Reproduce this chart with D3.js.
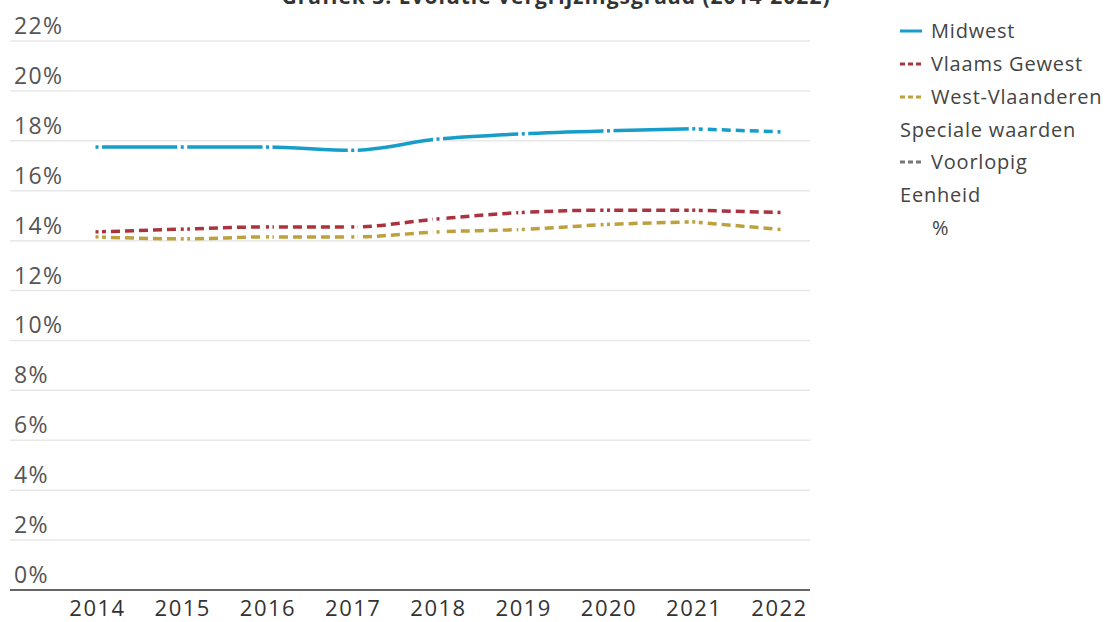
<!DOCTYPE html>
<html>
<head>
<meta charset="utf-8">
<script src="https://cdn.jsdelivr.net/npm/d3@7"></script>
<style>
  body { margin: 0; background: #fff; }
  svg { font-family: "Open Sans", sans-serif; }
</style>
</head>
<body>
<svg></svg>
<script>
const years = [2014, 2015, 2016, 2017, 2018, 2019, 2020, 2021, 2022]
const midwest = [17.75, 17.75, 17.75, 17.62, 18.07, 18.28, 18.4, 18.48, 18.36]
const vlaams = [14.35, 14.46, 14.55, 14.55, 14.87, 15.13, 15.22, 15.22, 15.13]
const westVl = [14.15, 14.07, 14.15, 14.15, 14.35, 14.45, 14.65, 14.75, 14.45]
const yTicks = [0, 2, 4, 6, 8, 10, 12, 14, 16, 18, 20, 22]
const provisionalFrom = 2021

const width = 1105, height = 622
const svg = d3.select('svg').attr('width', width).attr('height', height)

const margin = { top: 41, bottom: 32, left: 10, right: 295 }
const innerW = width - margin.left - margin.right
const innerH = height - margin.top - margin.bottom

const xScale = d3.scalePoint().domain(years).range([87, 769])
const yScale = d3.scaleLinear().domain([0, 22]).range([innerH, 0])

const g = svg.append('g').attr('transform', `translate(${margin.left},${margin.top})`)

// title, cut off at top like the reference
svg.append('text')
  .attr('x', 556).attr('y', 4)
  .attr('text-anchor', 'middle')
  .attr('font-size', 21).attr('font-weight', 'bold').attr('fill', '#333')
  .attr('letter-spacing', 1)
  .text('Grafiek 3: Evolutie vergrijzingsgraad (2014-2022)')

// gridlines + y labels
g.selectAll('.grid').data(yTicks.slice(1)).enter().append('line')
  .attr('x1', 0).attr('x2', innerW)
  .attr('y1', d => yScale(d)).attr('y2', d => yScale(d))
  .attr('stroke', '#e8e8e8').attr('stroke-width', 1.5)

g.selectAll('.ylab').data(yTicks).enter().append('text')
  .attr('x', 4).attr('y', d => yScale(d) - 7)
  .attr('font-size', 23).attr('fill', '#555').attr('letter-spacing', 1.3)
  .text(d => d + '%')

// x axis
const xAxis = d3.axisBottom(xScale).tickSize(0).tickPadding(10)
const xG = g.append('g').attr('transform', `translate(0,${innerH})`).call(xAxis)
xG.select('.domain').remove()
xG.selectAll('text').attr('font-size', 22).attr('fill', '#333')
  .attr('font-family', '"Open Sans", sans-serif').attr('letter-spacing', 1.5)
g.append('line').attr('x1', 0).attr('x2', innerW).attr('y1', innerH).attr('y2', innerH)
  .attr('stroke', '#333').attr('stroke-width', 1.5)

const series = [
  { name: 'Midwest', values: midwest, color: '#169dc9', dash: null },
  { name: 'Vlaams Gewest', values: vlaams, color: '#aa3340', dash: '9,5' },
  { name: 'West-Vlaanderen', values: westVl, color: '#bca13e', dash: '9,5' }
]

const line = d3.line()
  .x(d => xScale(d.year))
  .y(d => yScale(d.value))
  .curve(d3.curveMonotoneX)

series.forEach(s => {
  const pts = years.map((y, i) => ({ year: y, value: s.values[i] }))
  const firm = pts.filter(p => p.year <= provisionalFrom)
  const prov = pts.filter(p => p.year >= provisionalFrom)
  g.append('path').datum(firm)
    .attr('d', line).attr('fill', 'none')
    .attr('stroke', s.color).attr('stroke-width', 3.5)
    .attr('stroke-dasharray', s.dash)
  g.append('path').datum(prov)
    .attr('d', line).attr('fill', 'none')
    .attr('stroke', s.color).attr('stroke-width', 3.5)
    .attr('stroke-dasharray', '9,5')
  // point markers: gap with dot
  g.selectAll(null).data(pts).enter().append('rect')
    .attr('x', d => xScale(d.year) - 5).attr('y', d => yScale(d.value) - 3)
    .attr('width', 10).attr('height', 6).attr('fill', '#fff')
  g.selectAll(null).data(pts).enter().append('rect')
    .attr('x', d => xScale(d.year) - 1.5).attr('y', d => yScale(d.value) - 1.75)
    .attr('width', 3).attr('height', 3.5).attr('fill', s.color)
})

// legend
const leg = svg.append('g').attr('font-size', 20).attr('fill', '#444').attr('letter-spacing', 0.8)
const legItems = [
  { label: 'Midwest', color: '#169dc9', dash: null, y: 31 },
  { label: 'Vlaams Gewest', color: '#aa3340', dash: '5,3', y: 64 },
  { label: 'West-Vlaanderen', color: '#bca13e', dash: '5,3', y: 97 },
  { label: 'Voorlopig', color: '#777', dash: '5,3', y: 162 }
]
legItems.forEach(d => {
  leg.append('line').attr('x1', 900).attr('x2', 922).attr('y1', d.y).attr('y2', d.y)
    .attr('stroke', d.color).attr('stroke-width', 3).attr('stroke-dasharray', d.dash)
  leg.append('text').attr('x', 931).attr('y', d.y + 7).attr('fill', '#444').text(d.label)
})
leg.append('text').attr('x', 900).attr('y', 137).attr('fill', '#444').text('Speciale waarden')
leg.append('text').attr('x', 900).attr('y', 202).attr('fill', '#444').text('Eenheid')
leg.append('text').attr('x', 932).attr('y', 235).attr('fill', '#444').text('%')
</script>
</body>
</html>
